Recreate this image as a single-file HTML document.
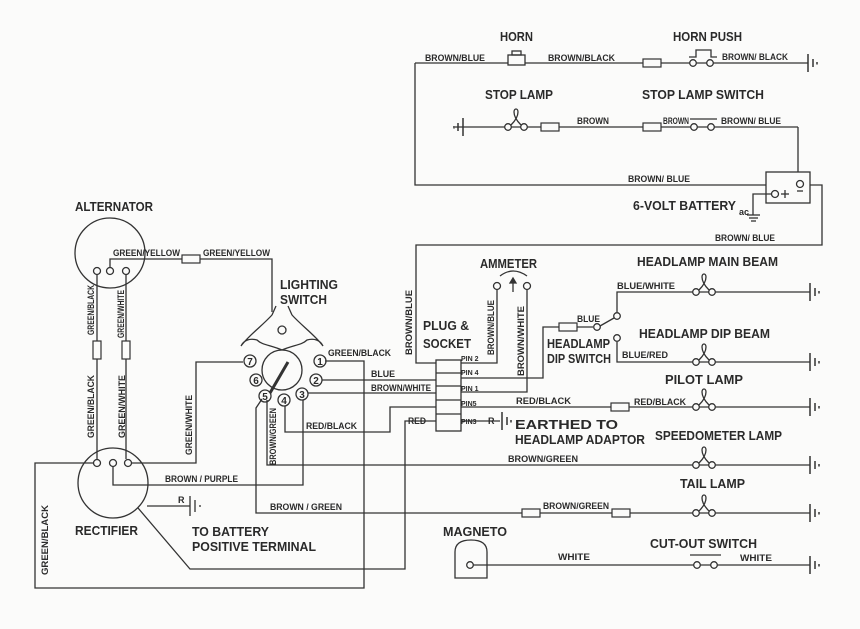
<!DOCTYPE html>
<html><head><meta charset="utf-8"><style>
html,body{margin:0;padding:0;background:#fbfbfa;}
svg{display:block;}
text{font-family:"Liberation Sans",sans-serif;font-weight:bold;fill:#2a2a2a;}
.s{font-size:9px;}
.l{font-size:12.5px;}
</style></head><body>
<svg width="860" height="629" viewBox="0 0 860 629" xmlns="http://www.w3.org/2000/svg">
<defs>
<g id="lamp" fill="none" stroke="#333" stroke-width="1.3">
<circle cx="-8" cy="0" r="3.3" fill="#fbfbfa"/><circle cx="8" cy="0" r="3.3" fill="#fbfbfa"/>
<path d="M-5,-2 C-1,-6 2,-10 2,-15 C2,-19 -2,-19 -2,-15 C-2,-10 1,-6 5,-2"/>
</g>
<g id="earth" stroke="#333" stroke-width="1.5" fill="none">
<line x1="0" y1="-9" x2="0" y2="9"/><line x1="5" y1="-4" x2="5" y2="4"/><line x1="9" y1="-1" x2="9" y2="1.5"/>
</g>
<g id="earthL" stroke="#333" stroke-width="1.5" fill="none">
<line x1="0" y1="-9" x2="0" y2="9"/><line x1="-5" y1="-4" x2="-5" y2="4"/><line x1="-9" y1="-1" x2="-9" y2="1.5"/>
</g>
<rect id="fuse" x="-9" y="-4" width="18" height="8" fill="#fbfbfa" stroke="#333" stroke-width="1.2"/>
<rect id="fuseV" x="-4" y="-9" width="8" height="18" fill="#fbfbfa" stroke="#333" stroke-width="1.2"/>
</defs>
<g stroke="#333" stroke-width="1.3" fill="none">
<!-- top horn circuit -->
<polyline points="415,63 415,185 822,185 822,245 416,245 416,363 436,363"/>
<line x1="415" y1="63" x2="808" y2="63"/>
<line x1="455" y1="127" x2="798" y2="127"/>
<polyline points="798,127 798,178"/>
<!-- battery -->
<rect x="766" y="172" width="44" height="31" fill="#fbfbfa"/>
<circle cx="800" cy="184" r="3.5"/><line x1="797" y1="191" x2="803" y2="191"/>
<circle cx="775" cy="194" r="3.5"/><line x1="781" y1="194" x2="789" y2="194"/><line x1="785" y1="190" x2="785" y2="198"/>
<polyline points="771,194 753,194 753,215"/>
<line x1="747" y1="215" x2="760" y2="215"/><line x1="749" y1="218" x2="758" y2="218"/><line x1="751" y1="221" x2="756" y2="221"/>
<!-- horn -->
<rect x="508" y="55" width="17" height="10" fill="#fbfbfa"/><rect x="512" y="51" width="9" height="4"/>
<!-- horn push -->
<circle cx="693" cy="63" r="3.3" fill="#fbfbfa"/><circle cx="710" cy="63" r="3.3" fill="#fbfbfa"/>
<polyline points="689,57 696,57 696,50 711,50 711,57 717,57"/>
<!-- stop lamp switch -->
<circle cx="694" cy="127" r="3.3" fill="#fbfbfa"/><circle cx="711" cy="127" r="3.3" fill="#fbfbfa"/>
<line x1="690" y1="119" x2="717" y2="119"/>
<!-- right lines -->
<polyline points="497,290 497,363 461,363"/>
<polyline points="527,290 527,392 461,392"/>
<polyline points="461,378 543,378 543,327 593,327"/>
<circle cx="497" cy="286" r="3.5"/><circle cx="527" cy="286" r="3.5"/>
<path d="M500,276 Q513,266 527,276"/>
<line x1="513" y1="292" x2="513" y2="280"/><path d="M510,283 L513,278 L516,283Z" fill="#333"/>
<circle cx="597" cy="327" r="3.3"/>
<line x1="600" y1="326" x2="614" y2="318"/>
<circle cx="617" cy="316" r="3.3"/><circle cx="617" cy="338" r="3.3"/>
<polyline points="617,312 617,292 810,292"/>
<polyline points="617,342 617,362 810,362"/>
<line x1="461" y1="407" x2="810" y2="407"/>
<line x1="461" y1="421" x2="500" y2="421"/>
<!-- socket -->
<rect x="436" y="360" width="25" height="71" fill="#fbfbfa"/>
<line x1="436" y1="373" x2="461" y2="373"/><line x1="436" y1="386" x2="461" y2="386"/>
<line x1="436" y1="400" x2="461" y2="400"/><line x1="436" y1="414" x2="461" y2="414"/>
<!-- speedo, tail, magneto -->
<polyline points="267,400 267,465 810,465"/>
<polyline points="262,399 256,408 256,513 810,513"/>
<line x1="470" y1="565" x2="810" y2="565"/>
<path d="M455,578 L455,552 Q455,540 471,540 Q487,540 487,552 L487,578 Z"/>
<circle cx="470" cy="565" r="3.3" fill="#fbfbfa"/>
<circle cx="697" cy="565" r="3.3" fill="#fbfbfa"/><circle cx="714" cy="565" r="3.3" fill="#fbfbfa"/>
<line x1="690" y1="555" x2="721" y2="555"/>
<!-- left -->
<circle cx="110" cy="253" r="35"/>
<circle cx="113" cy="483" r="35"/>
<circle cx="97" cy="271" r="3.5"/><circle cx="110" cy="271" r="3.5"/><circle cx="126" cy="271" r="3.5"/>
<circle cx="97" cy="463" r="3.5"/><circle cx="113" cy="463" r="3.5"/><circle cx="128" cy="463" r="3.5"/>
<line x1="97" y1="275" x2="97" y2="459"/><line x1="126" y1="275" x2="126" y2="459"/>
<polyline points="110,267 110,259 272,259 272,312"/>
<polyline points="94,463 35,463 35,588 364,588 364,361 325,361"/>
<polyline points="132,463 196,463 196,362 243,362"/>
<polyline points="113,467 113,485 303,485 303,400"/>
<line x1="147" y1="506" x2="190" y2="506"/>
<line x1="190" y1="496" x2="190" y2="516"/><line x1="195" y1="500" x2="195" y2="512"/><line x1="200" y1="505" x2="200" y2="507"/>
<polyline points="138,508 190,569 405,569 405,421 436,421"/>
<polyline points="285,406 285,432 390,432 390,407 436,407"/>
<line x1="322" y1="380" x2="436" y2="380"/>
<line x1="308" y1="393" x2="436" y2="393"/>
<!-- lighting switch -->
<circle cx="282" cy="370" r="20"/>
<line x1="288" y1="362" x2="270" y2="393" stroke-width="3"/>
<path d="M282,350 C270,345 262,345 257,340 C250,338 244,340 241,346 C248,336 262,326 272,315 M282,350 C294,345 302,345 307,340 C314,338 320,340 323,346 C316,336 302,326 292,315 M272,315 L276,306 M292,315 L288,306"/>
<circle cx="282" cy="330" r="4"/>
<circle cx="250" cy="361" r="6"/><circle cx="320" cy="361" r="6"/>
<circle cx="256" cy="380" r="6"/><circle cx="316" cy="380" r="6"/>
<circle cx="265" cy="396" r="6"/><circle cx="284" cy="400" r="6"/><circle cx="302" cy="394" r="6"/>
</g>
<g fill="#fbfbfa">
<use href="#fuse" x="652" y="63"/><use href="#fuse" x="550" y="127"/><use href="#fuse" x="652" y="127"/>
<use href="#fuse" x="568" y="327"/><use href="#fuse" x="620" y="407"/>
<use href="#fuse" x="531" y="513"/><use href="#fuse" x="621" y="513"/>
<use href="#fuse" x="191" y="259"/>
<use href="#fuseV" x="97" y="350"/><use href="#fuseV" x="126" y="350"/>
</g>
<use href="#earth" x="808" y="63"/><use href="#earthL" x="463" y="127"/>
<use href="#earth" x="810" y="292"/><use href="#earth" x="810" y="362"/><use href="#earth" x="810" y="407"/>
<use href="#earth" x="810" y="465"/><use href="#earth" x="810" y="513"/><use href="#earth" x="810" y="565"/>
<use href="#earth" x="502" y="421"/>
<use href="#lamp" x="516" y="127"/><use href="#lamp" x="704" y="292"/><use href="#lamp" x="704" y="362"/>
<use href="#lamp" x="704" y="407"/><use href="#lamp" x="704" y="465"/><use href="#lamp" x="704" y="513"/>

<!-- labels -->
<text class="l" x="500" y="41" textLength="33" lengthAdjust="spacingAndGlyphs">HORN</text>
<text class="l" x="673" y="41" textLength="69" lengthAdjust="spacingAndGlyphs">HORN PUSH</text>
<text class="s" x="425" y="61" textLength="60" lengthAdjust="spacingAndGlyphs">BROWN/BLUE</text>
<text class="s" x="548" y="61" textLength="67" lengthAdjust="spacingAndGlyphs">BROWN/BLACK</text>
<text class="s" x="722" y="60" textLength="66" lengthAdjust="spacingAndGlyphs">BROWN/ BLACK</text>
<text class="l" x="485" y="99" textLength="68" lengthAdjust="spacingAndGlyphs">STOP LAMP</text>
<text class="l" x="642" y="99" textLength="122" lengthAdjust="spacingAndGlyphs">STOP LAMP SWITCH</text>
<text class="s" x="577" y="124" textLength="32" lengthAdjust="spacingAndGlyphs">BROWN</text>
<text class="s" x="663" y="124" textLength="26" lengthAdjust="spacingAndGlyphs">BROWN</text>
<text class="s" x="721" y="124" textLength="60" lengthAdjust="spacingAndGlyphs">BROWN/ BLUE</text>
<text class="s" x="628" y="182" textLength="62" lengthAdjust="spacingAndGlyphs">BROWN/ BLUE</text>
<text class="l" x="633" y="210" textLength="103" lengthAdjust="spacingAndGlyphs">6-VOLT BATTERY</text>
<text class="s" x="715" y="241" textLength="60" lengthAdjust="spacingAndGlyphs">BROWN/ BLUE</text>
<text class="s" x="739" y="215" font-size="6">ac</text>
<text class="l" x="75" y="211" textLength="78" lengthAdjust="spacingAndGlyphs">ALTERNATOR</text>
<text class="s" x="113" y="256" textLength="67" lengthAdjust="spacingAndGlyphs">GREEN/YELLOW</text>
<text class="s" x="203" y="256" textLength="67" lengthAdjust="spacingAndGlyphs">GREEN/YELLOW</text>
<text class="l" x="280" y="289" textLength="58" lengthAdjust="spacingAndGlyphs">LIGHTING</text>
<text class="l" x="280" y="304" textLength="47" lengthAdjust="spacingAndGlyphs">SWITCH</text>
<text class="s" transform="translate(94,335) rotate(-90)" textLength="50" lengthAdjust="spacingAndGlyphs">GREEN/BLACK</text>
<text class="s" transform="translate(124,338) rotate(-90)" textLength="48" lengthAdjust="spacingAndGlyphs">GREEN/WHITE</text>
<text class="s" transform="translate(94,438) rotate(-90)" textLength="63" lengthAdjust="spacingAndGlyphs">GREEN/BLACK</text>
<text class="s" transform="translate(125,438) rotate(-90)" textLength="63" lengthAdjust="spacingAndGlyphs">GREEN/WHITE</text>
<text class="s" transform="translate(192,455) rotate(-90)" textLength="60" lengthAdjust="spacingAndGlyphs">GREEN/WHITE</text>
<text class="s" transform="translate(48,575) rotate(-90)" textLength="70" lengthAdjust="spacingAndGlyphs">GREEN/BLACK</text>
<text class="s" transform="translate(276,465) rotate(-90)" textLength="57" lengthAdjust="spacingAndGlyphs">BROWN/GREEN</text>
<text class="s" transform="translate(412,355) rotate(-90)" textLength="65" lengthAdjust="spacingAndGlyphs">BROWN/BLUE</text>
<text class="s" transform="translate(494,355) rotate(-90)" textLength="55" lengthAdjust="spacingAndGlyphs">BROWN/BLUE</text>
<text class="s" transform="translate(524,376) rotate(-90)" textLength="70" lengthAdjust="spacingAndGlyphs">BROWN/WHITE</text>
<g font-size="10" text-anchor="middle" style="font-weight:normal">
<text x="250" y="365">7</text><text x="320" y="365">1</text><text x="256" y="384">6</text><text x="316" y="384">2</text>
<text x="265" y="400">5</text><text x="284" y="404">4</text><text x="302" y="398">3</text>
</g>
<text class="s" x="328" y="356" textLength="63" lengthAdjust="spacingAndGlyphs">GREEN/BLACK</text>
<text class="s" x="371" y="377" textLength="24" lengthAdjust="spacingAndGlyphs">BLUE</text>
<text class="s" x="371" y="391" textLength="60" lengthAdjust="spacingAndGlyphs">BROWN/WHITE</text>
<text class="s" x="306" y="429" textLength="51" lengthAdjust="spacingAndGlyphs">RED/BLACK</text>
<text class="s" x="408" y="424" textLength="18" lengthAdjust="spacingAndGlyphs">RED</text>
<text class="s" x="165" y="482" textLength="73" lengthAdjust="spacingAndGlyphs">BROWN / PURPLE</text>
<text class="s" x="178" y="503">R</text>
<text class="s" x="270" y="510" textLength="72" lengthAdjust="spacingAndGlyphs">BROWN / GREEN</text>
<text class="l" x="75" y="535" textLength="63" lengthAdjust="spacingAndGlyphs">RECTIFIER</text>
<text class="l" x="192" y="536" textLength="77" lengthAdjust="spacingAndGlyphs">TO BATTERY</text>
<text class="l" x="192" y="551" textLength="124" lengthAdjust="spacingAndGlyphs">POSITIVE TERMINAL</text>
<text class="l" x="423" y="330" textLength="46" lengthAdjust="spacingAndGlyphs">PLUG &amp;</text>
<text class="l" x="423" y="348" textLength="48" lengthAdjust="spacingAndGlyphs">SOCKET</text>
<g font-size="7" style="font-weight:bold">
<text x="461" y="361">PIN 2</text><text x="461" y="375">PIN 4</text><text x="461" y="391">PIN 1</text><text x="461" y="406">PIN5</text><text x="461" y="424">PIN3</text>
</g>
<text class="s" x="488" y="424">R</text>
<text class="l" x="480" y="268" textLength="57" lengthAdjust="spacingAndGlyphs">AMMETER</text>
<text class="l" x="515" y="429" textLength="103" lengthAdjust="spacingAndGlyphs">EARTHED TO</text>
<text class="l" x="515" y="444" textLength="130" lengthAdjust="spacingAndGlyphs">HEADLAMP ADAPTOR</text>
<text class="s" x="577" y="322" textLength="23" lengthAdjust="spacingAndGlyphs">BLUE</text>
<text class="l" x="547" y="348" textLength="63" lengthAdjust="spacingAndGlyphs">HEADLAMP</text>
<text class="l" x="547" y="363" textLength="64" lengthAdjust="spacingAndGlyphs">DIP SWITCH</text>
<text class="l" x="637" y="266" textLength="141" lengthAdjust="spacingAndGlyphs">HEADLAMP MAIN BEAM</text>
<text class="s" x="617" y="289" textLength="58" lengthAdjust="spacingAndGlyphs">BLUE/WHITE</text>
<text class="l" x="639" y="338" textLength="131" lengthAdjust="spacingAndGlyphs">HEADLAMP DIP BEAM</text>
<text class="s" x="622" y="358" textLength="46" lengthAdjust="spacingAndGlyphs">BLUE/RED</text>
<text class="l" x="665" y="384" textLength="78" lengthAdjust="spacingAndGlyphs">PILOT LAMP</text>
<text class="s" x="516" y="404" textLength="55" lengthAdjust="spacingAndGlyphs">RED/BLACK</text>
<text class="s" x="634" y="405" textLength="52" lengthAdjust="spacingAndGlyphs">RED/BLACK</text>
<text class="l" x="655" y="440" textLength="127" lengthAdjust="spacingAndGlyphs">SPEEDOMETER LAMP</text>
<text class="s" x="508" y="462" textLength="70" lengthAdjust="spacingAndGlyphs">BROWN/GREEN</text>
<text class="l" x="680" y="488" textLength="65" lengthAdjust="spacingAndGlyphs">TAIL LAMP</text>
<text class="s" x="543" y="509" textLength="66" lengthAdjust="spacingAndGlyphs">BROWN/GREEN</text>
<text class="l" x="443" y="536" textLength="64" lengthAdjust="spacingAndGlyphs">MAGNETO</text>
<text class="l" x="650" y="548" textLength="107" lengthAdjust="spacingAndGlyphs">CUT-OUT SWITCH</text>
<text class="s" x="558" y="560" textLength="32" lengthAdjust="spacingAndGlyphs">WHITE</text>
<text class="s" x="740" y="561" textLength="32" lengthAdjust="spacingAndGlyphs">WHITE</text>
</svg>
</body></html>
